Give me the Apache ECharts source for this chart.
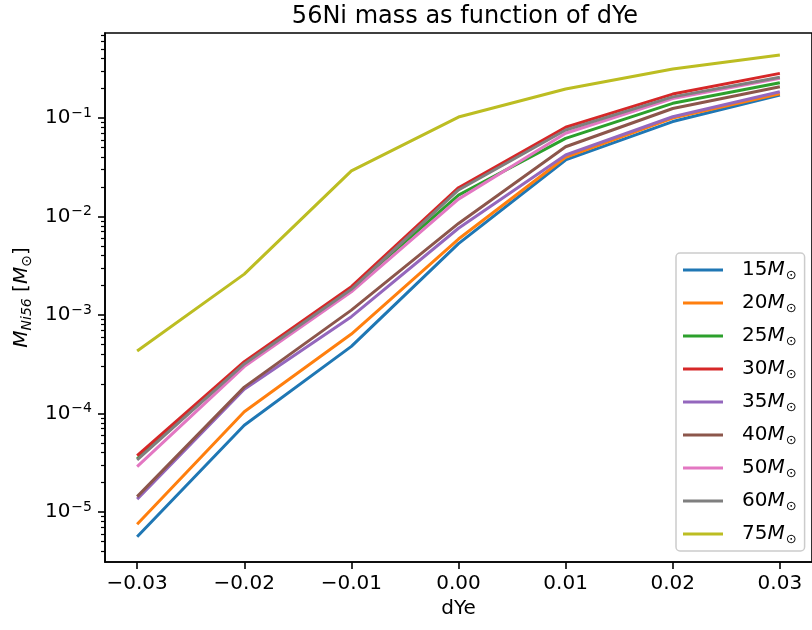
<!DOCTYPE html>
<html><head><meta charset="utf-8">
<script src="https://cdn.jsdelivr.net/npm/echarts@6/dist/echarts.min.js"></script>
<style>html,body{margin:0;padding:0;background:#fff}#c{width:812px;height:630px}</style>
</head><body><div id="c"></div>
<script>
// ---- data ----
const dYe = [-0.03, -0.02, -0.01, 0.00, 0.01, 0.02, 0.03];
const m15 = [5.6e-6, 7.6e-5, 4.8e-4, 5.3e-3, 0.0375, 0.092, 0.171];
const m20 = [7.5e-6, 1.04e-4, 6.4e-4, 5.9e-3, 0.0399, 0.100, 0.176];
const m25 = [3.45e-5, 3.2e-4, 1.84e-3, 0.0165, 0.0622, 0.141, 0.228];
const m30 = [3.73e-5, 3.36e-4, 1.94e-3, 0.0196, 0.0805, 0.175, 0.284];
const m35 = [1.35e-5, 1.76e-4, 9.6e-4, 7.6e-3, 0.0421, 0.103, 0.185];
const m40 = [1.43e-5, 1.85e-4, 1.12e-3, 8.5e-3, 0.0511, 0.125, 0.208];
const m50 = [2.88e-5, 2.99e-4, 1.72e-3, 0.0150, 0.070, 0.158, 0.253];
const m60 = [3.37e-5, 3.18e-4, 1.82e-3, 0.0186, 0.0755, 0.164, 0.259];
const m75 = [4.3e-4, 2.6e-3, 0.029, 0.1023, 0.197, 0.314, 0.437];
const massLabels = ['15', '20', '25', '30', '35', '40', '50', '60', '75'];
const xTickValues = [-0.03, -0.02, -0.01, 0.00, 0.01, 0.02, 0.03];
const yMajorTicks = [1e-5, 1e-4, 1e-3, 1e-2, 1e-1];

// ---- styling ----
const allSeries = [m15, m20, m25, m30, m35, m40, m50, m60, m75];
const colors = ['#1f77b4', '#ff7f0e', '#2ca02c', '#d62728', '#9467bd', '#8c564b', '#e377c2', '#7f7f7f', '#bcbd22'];
const FONT = 'DejaVu Sans';
const yMin = 3.1e-6, yMax = 0.73;
const yMinorTicks = [];
[1e-6, 1e-5, 1e-4, 1e-3, 1e-2, 1e-1].forEach(d => {
  for (let m = 2; m <= 9; m++) { const v = m * d; if (v >= yMin && v <= yMax) yMinorTicks.push(v); }
});

const chart = echarts.init(document.getElementById('c'), null, { renderer: 'canvas' });
const axisLine = { show: true, onZero: false, lineStyle: { color: '#000', width: 1.6 } };
const option = {
  animation: false,
  backgroundColor: '#fff',
  textStyle: { fontFamily: FONT },
  title: {
    text: '56Ni mass as function of dYe',
    left: 460, top: 0, textAlign: 'center',
    textStyle: { fontFamily: FONT, fontSize: 24, fontWeight: 'normal', color: '#000' }
  },
  grid: { left: 105, top: 33, right: -4, bottom: 68, show: true, borderColor: '#000', borderWidth: 1.6, containLabel: false },
  legend: {
    orient: 'vertical', left: 676, top: 253,
    padding: [5, 8, 5, 7],
    itemGap: 9, itemWidth: 40, itemHeight: 3, icon: 'rect',
    borderColor: '#cccccc', borderWidth: 1.5, borderRadius: 4,
    backgroundColor: 'rgba(255,255,255,0.85)',
    data: massLabels,
    formatter: n => n + '{i|M}{s|⊙}',
    textStyle: {
      fontFamily: FONT, fontSize: 20, lineHeight: 24, color: '#000', padding: [0, 0, 0, 14],
      rich: {
        i: { fontFamily: FONT, fontSize: 20, fontStyle: 'italic', lineHeight: 24, color: '#000' },
        s: { fontFamily: FONT, fontSize: 13, lineHeight: 13, padding: [11, 0, 0, 1], color: '#000' }
      }
    }
  },
  xAxis: {
    type: 'value', min: -0.033, max: 0.033,
    name: 'dYe', nameLocation: 'middle', nameGap: 32,
    nameTextStyle: { fontFamily: FONT, fontSize: 20, color: '#000' },
    axisLine: axisLine,
    splitLine: { show: false },
    axisTick: { show: true, inside: false, length: 7, lineStyle: { color: '#000', width: 1.6 }, customValues: xTickValues },
    axisLabel: {
      margin: 12, fontFamily: FONT, fontSize: 20, color: '#000', customValues: xTickValues,
      formatter: v => (v < -1e-9 ? '\u2212' : '') + Math.abs(v).toFixed(2)
    }
  },
  yAxis: [{
    type: 'log', logBase: 10, min: yMin, max: yMax, position: 'left',
    name: '{i|M}{s|Ni56} [{i|M}{s|⊙}]', nameLocation: 'middle', nameGap: 68, nameRotate: 90,
    nameTextStyle: {
      fontFamily: FONT, fontSize: 20, color: '#000',
      rich: {
        i: { fontFamily: FONT, fontSize: 20, fontStyle: 'italic', color: '#000' },
        s: { fontFamily: FONT, fontSize: 14, padding: [10, 0, 0, 0], fontStyle: 'italic', color: '#000' }
      }
    },
    axisLine: axisLine,
    splitLine: { show: false },
    minorTick: { show: false },
    axisTick: { show: true, length: 7, lineStyle: { color: '#000', width: 1.6 }, customValues: yMajorTicks },
    axisLabel: {
      margin: 13, fontFamily: FONT, fontSize: 20, color: '#000', customValues: yMajorTicks,
      formatter: v => { const e = Math.round(Math.log10(v)); return '10{sup|' + (e < 0 ? '\u2212' : '') + Math.abs(e) + '}'; },
      rich: { sup: { fontFamily: FONT, fontSize: 14, padding: [0, 0, 10, 1], color: '#000' } }
    }
  }, {
    type: 'log', logBase: 10, min: yMin, max: yMax, position: 'left', offset: 0,
    axisLine: { show: false, onZero: false }, splitLine: { show: false },
    axisTick: { show: true, length: 4, lineStyle: { color: '#000', width: 1.2 }, customValues: yMinorTicks },
    axisLabel: { show: false }
  }],
  series: allSeries.map((vals, i) => ({
    name: massLabels[i], type: 'line', yAxisIndex: 0,
    data: dYe.map((x, j) => [x, vals[j]]),
    showSymbol: false, symbol: 'none', clip: true,
    lineStyle: { color: colors[i], width: 3 }, itemStyle: { color: colors[i] },
    z: 2 + i
  }))
};
chart.setOption(option);
</script></body></html>
